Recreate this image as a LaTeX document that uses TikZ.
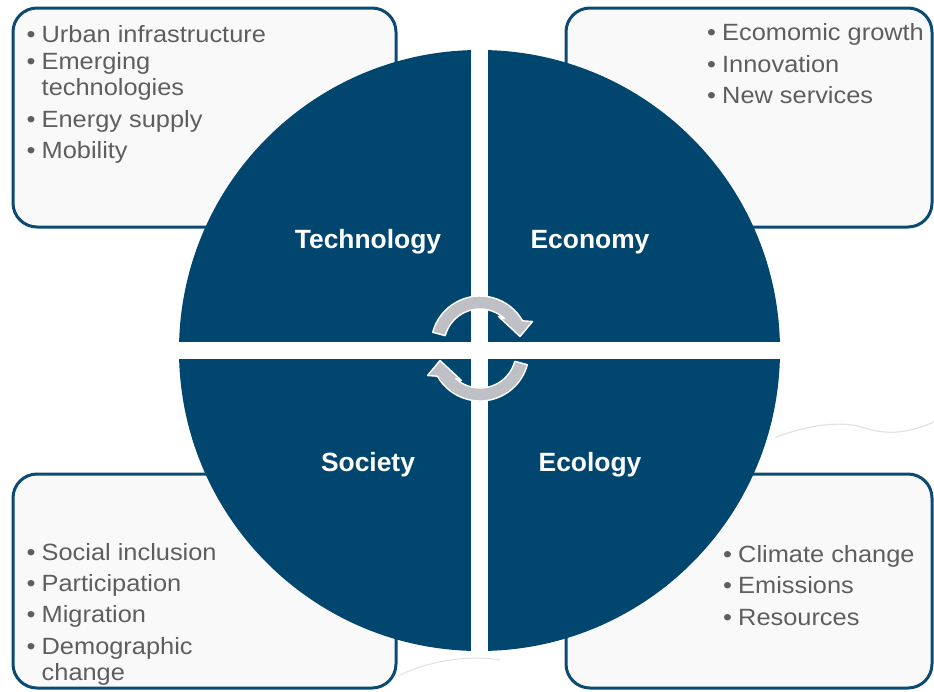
\documentclass[tikz,border=0pt]{standalone}
\usepackage{fontspec}
\setmainfont{Liberation Sans}[FakeStretch=1.08]
\newfontfamily\labelfont{Liberation Sans}
\definecolor{quad}{HTML}{00466E}
\definecolor{frameblue}{HTML}{0B4A72}
\definecolor{boxfill}{HTML}{F9F9F9}
\definecolor{itemgray}{HTML}{5E5E5E}
\definecolor{arrowgray}{HTML}{BEC0C6}
\definecolor{faint}{HTML}{E2E2E2}
\newcommand\bitem[1]{\makebox[15pt][l]{\textbullet}#1}
\newcommand\bcont[1]{\hspace*{15pt}#1}
\tikzset{
  infobox/.style={draw=frameblue, fill=boxfill, line width=3pt, rounded corners=24pt},
  itemlist/.style={align=left, inner sep=0pt, text=itemgray, font=\fontsize{23.5}{26.3}\selectfont, anchor=base west},
  quadlabel/.style={inner sep=0pt, text=white, font=\labelfont\bfseries\fontsize{26.4}{30}\selectfont, anchor=base},
  cyclearrow/.style={fill=arrowgray, draw=white, line width=1.4pt, line join=round}
}
\newcommand\cyclepath{(195:49) arc[start angle=195, end angle=330.4, radius=49]
    -- (52.5,-23.5) -- (40,-8.5) -- (18.5,-28.5) -- (312.6:36)
    arc[start angle=312.6, end angle=195, radius=36] -- cycle}
\begin{document}
\begin{tikzpicture}[x=1pt,y=-1pt]
\useasboundingbox (0,0) rectangle (934,691);
\fill[white] (0,0) rectangle (934,691);

% faint background strokes
\draw[faint, line width=1.2pt] (776,437) .. controls (810,425) and (840,420) .. (865,428) .. controls (890,436) and (910,432) .. (934,422);
\draw[faint, line width=1pt] (398,676) .. controls (430,660) and (470,655) .. (500,660);

% corner boxes
\draw[infobox] (13,8) rectangle (396,227);
\node[inner sep=0pt] (tlbox) at (204.5,117.5) {};
\draw[infobox] (566,8) rectangle (932,227);
\node[inner sep=0pt] (trbox) at (749,117.5) {};
\draw[infobox] (13,474) rectangle (396,688);
\node[inner sep=0pt] (blbox) at (204.5,581) {};
\draw[infobox] (566,474) rectangle (932,688);
\node[inner sep=0pt] (brbox) at (749,581) {};

% four quadrants of the circle
\begin{scope}
  \clip (479.5,350.5) circle[radius=300.5];
  \fill[quad] (170,40) rectangle (470.8,342);
  \fill[quad] (488.2,40) rectangle (790,342);
  \fill[quad] (170,359) rectangle (470.8,662);
  \fill[quad] (488.2,359) rectangle (790,662);
\end{scope}

% quadrant labels
\node[quadlabel] (tech) at (368,248.5) {Technology};
\node[quadlabel] (econ) at (590,248.5) {Economy};
\node[quadlabel] (soc)  at (368,471.5) {Society};
\node[quadlabel] (eco)  at (590,471.5) {Ecology};

% cycle arrows in the centre
\begin{scope}[shift={(480,345)}]
  \filldraw[cyclearrow] \cyclepath;
\end{scope}
\begin{scope}[shift={(480,352)}, rotate=180]
  \filldraw[cyclearrow] \cyclepath;
\end{scope}

% bullet lists (anchored at the baseline of their last line)
\node[itemlist] (tllist) at (26.5,158.5) {\bitem{Urban infrastructure}\\
  \bitem{Emerging}\\ \bcont{technologies}\\[5.5pt]
  \bitem{Energy supply}\\[5pt] \bitem{Mobility}};
\node[itemlist] (trlist) at (707,103.5) {\bitem{Ecomomic growth}\\[5pt]
  \bitem{Innovation}\\[5pt] \bitem{New services}};
\node[itemlist] (bllist) at (26.5,680.5) {\bitem{Social inclusion}\\[5pt]
  \bitem{Participation}\\[5pt] \bitem{Migration}\\[5pt]
  \bitem{Demographic}\\ \bcont{change}};
\node[itemlist] (brlist) at (723,625) {\bitem{Climate change}\\[5pt]
  \bitem{Emissions}\\[5pt] \bitem{Resources}};
\end{tikzpicture}
\end{document}
